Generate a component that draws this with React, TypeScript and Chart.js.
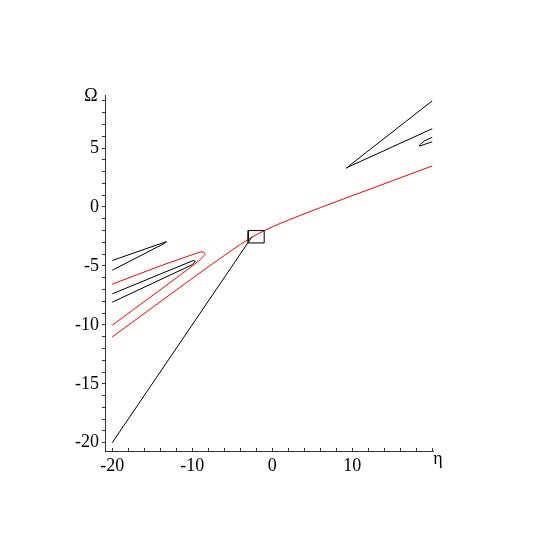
import { useEffect, useRef } from "react";
import { Chart, registerables } from "chart.js";

Chart.register(...registerables);

// Curves (η, Ω)
const diagEta = [-20, -2.5];
const diagOmega = [-20, -2.5];

const mainRedEta = [-20, -15, -10, -8, -6, -5, -4, -3, -2, -1, 0, 1, 2, 4, 6, 8, 10, 12, 15, 16, 20];
const mainRedOmega = [-11.03, -8.54, -6.06, -5.08, -4.12, -3.65, -3.19, -2.76, -2.36, -2.01, -1.69, -1.4, -1.12, -0.58, -0.06, 0.45, 0.96, 1.46, 2.22, 2.47, 3.48];

const redLoopEta = [-20, -12, -9.2, -8.7, -8.45, -8.4, -8.55, -9, -10, -14, -20];
const redLoopOmega = [-10.03, -6.03, -4.6, -4.25, -4.05, -3.93, -3.83, -3.82, -4.05, -5.0, -6.55];

const blackLoop1Eta = [-20, -13.4, -13.2, -13.5, -20];
const blackLoop1Omega = [-4.54, -2.98, -2.94, -3.1, -5.37];

const blackLoop2Eta = [-20, -9.9, -9.6, -10, -20];
const blackLoop2Omega = [-7.37, -4.55, -4.6, -4.9, -8.08];

const rightLoop1Eta = [20, 9.7, 9.4, 9.25, 9.6, 20];
const rightLoop1Omega = [9.0, 3.54, 3.36, 3.3, 3.42, 6.64];

const rightLoop2Eta = [20, 19, 18.5, 18.4, 18.6, 19.2, 20];
const rightLoop2Omega = [5.91, 5.6, 5.3, 5.17, 5.2, 5.35, 5.53];

const boxEta = [-3, -1, -1, -3, -3];
const boxOmega = [-3.05, -3.05, -2.0, -2.0, -3.05];

// Axes
const xTicks = [-20, -18, -16, -14, -12, -10, -8, -6, -4, -2, 0, 2, 4, 6, 8, 10, 12, 14, 16, 18, 20];
const xTickLabels = [-20, -10, 0, 10];
const yTicks = [-20, -19, -18, -17, -16, -15, -14, -13, -12, -11, -10, -9, -8, -7, -6, -5, -4, -3, -2, -1, 0, 1, 2, 3, 4, 5, 6, 7, 8, 9];
const yTickLabels = [-20, -15, -10, -5, 0, 5];
const xTitle = "η";
const yTitle = "Ω";

const pts = (xs: number[], ys: number[]) => xs.map((x, i) => ({ x, y: ys[i] }));

const FONT = "Liberation Serif";

export default function App() {
  const ref = useRef<HTMLCanvasElement | null>(null);

  useEffect(() => {
    if (!ref.current) return;
    const black = "#000000";
    const red = "#ff0000";
    const mk = (xs: number[], ys: number[], color: string) => ({
      data: pts(xs, ys),
      borderColor: color,
      backgroundColor: color,
      borderWidth: 1,
      pointRadius: 0,
      showLine: true,
      fill: false,
      tension: 0,
    });

    const titles = {
      id: "axisTitles",
      afterDraw(chart: any) {
        const ctx = chart.ctx;
        const area = chart.chartArea;
        ctx.save();
        ctx.fillStyle = "#000";
        ctx.font = `18px "${FONT}"`;
        ctx.textAlign = "center";
        ctx.textBaseline = "alphabetic";
        ctx.fillText(yTitle, area.left - 14, area.top + 6);
        ctx.fillText(xTitle, area.right + 5, area.bottom + 13);
        ctx.restore();
      },
    };

    const chart = new Chart(ref.current, {
      type: "scatter",
      data: {
        datasets: [
          mk(diagEta, diagOmega, black),
          mk(blackLoop1Eta, blackLoop1Omega, black),
          mk(blackLoop2Eta, blackLoop2Omega, black),
          mk(rightLoop1Eta, rightLoop1Omega, black),
          mk(rightLoop2Eta, rightLoop2Omega, black),
          mk(boxEta, boxOmega, black),
          mk(redLoopEta, redLoopOmega, red),
          mk(mainRedEta, mainRedOmega, red),
        ],
      },
      options: {
        animation: false,
        responsive: false,
        layout: { padding: { left: 0, top: 95, right: 112, bottom: 0 } },
        plugins: { legend: { display: false }, tooltip: { enabled: false } },
        scales: {
          x: {
            type: "linear",
            position: "bottom",
            min: -20.9,
            max: 20.1,
            afterBuildTicks: (s: any) => {
              s.ticks = xTicks.map((v) => ({ value: v }));
            },
            afterFit: (s: any) => {
              s.height = 94;
            },
            ticks: {
              autoSkip: false,
              maxRotation: 0,
              padding: 7,
              color: "#000",
              font: { family: FONT, size: 18 },
              callback: (v: any) => (xTickLabels.includes(Number(v)) ? String(v) : ""),
            },
            grid: { drawOnChartArea: false, tickLength: -3, color: "#333" },
            border: { color: "#333", width: 1 },
          },
          y: {
            type: "linear",
            position: "left",
            min: -20.7,
            max: 9.5,
            afterBuildTicks: (s: any) => {
              s.ticks = yTicks.map((v) => ({ value: v }));
            },
            afterFit: (s: any) => {
              s.width = 105;
            },
            ticks: {
              autoSkip: false,
              padding: 3,
              color: "#000",
              font: { family: FONT, size: 18 },
              callback: (v: any) => (yTickLabels.includes(Number(v)) ? String(v) : ""),
            },
            grid: { drawOnChartArea: false, tickLength: 3, color: "#333" },
            border: { color: "#333", width: 1 },
          },
        },
      },
      plugins: [titles],
    } as any);
    return () => chart.destroy();
  }, []);

  return (
    <div style={{ position: "absolute", left: 0, top: 0, width: 545, height: 545, background: "#fff" }}>
      <canvas ref={ref} width={545} height={545} />
    </div>
  );
}
